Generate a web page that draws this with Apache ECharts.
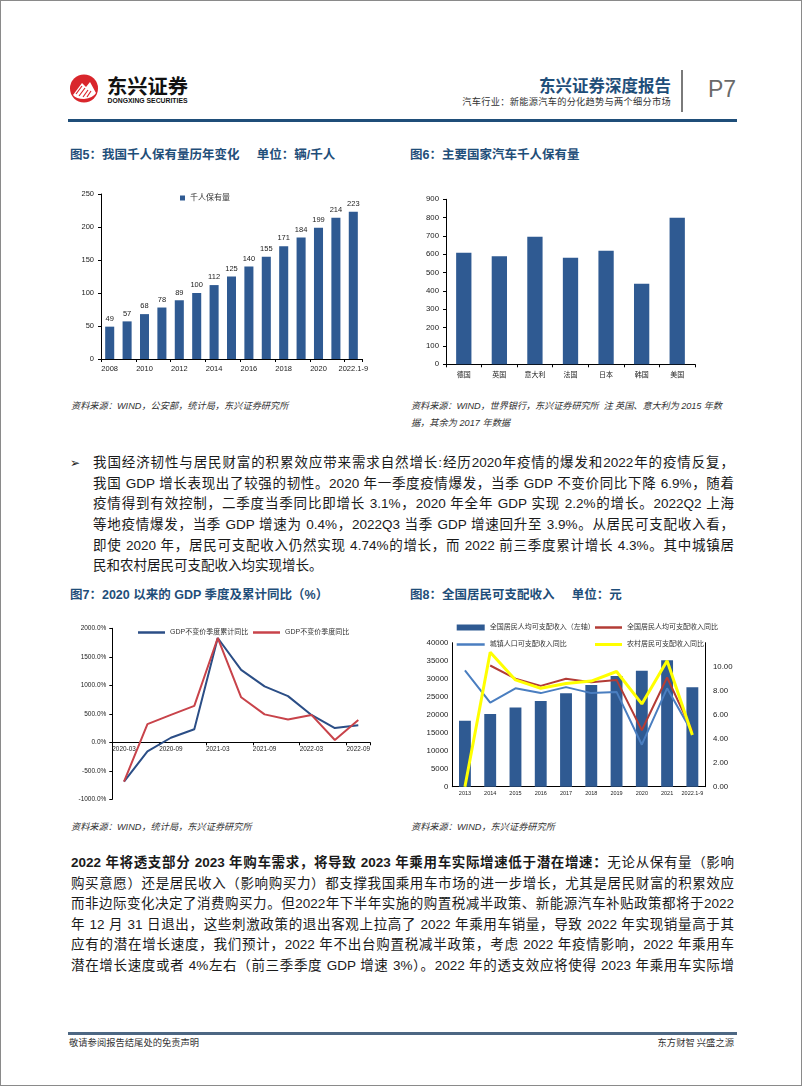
<!DOCTYPE html>
<html><head><meta charset="utf-8">
<script src="https://cdn.jsdelivr.net/npm/echarts/dist/echarts.min.js"></script>
<style>
html,body{margin:0;padding:0;background:#fff;}
body{width:802px;height:1086px;position:relative;overflow:hidden;font-family:"Liberation Sans",Arial,"Noto Sans CJK SC",sans-serif;}
.page{position:absolute;left:0;top:0;width:802px;height:1086px;box-sizing:border-box;border:1px solid #8a8a8a;}
.abs{position:absolute;}
.title{position:absolute;font-size:12.5px;font-weight:bold;color:#1f4e79;white-space:pre;line-height:16px;}
.src{position:absolute;font-size:9.2px;font-style:italic;color:#333;line-height:16px;white-space:pre;}
.para{position:absolute;font-size:13.5px;color:#1a1a1a;line-height:20.7px;}
.ln{text-align:justify;text-align-last:justify;height:20.7px;overflow:visible;}
.ln.last{text-align-last:left;}
.chart{position:absolute;}
</style></head>
<body>
<div class="page"></div>

<!-- header -->
<svg class="abs" style="left:60px;top:66px" width="140" height="44" viewBox="0 0 140 44">
  <circle cx="24" cy="22.5" r="14" fill="#d9262c"/>
  <path d="M13 29 L22 17 L26 21 L30 16 L36 27 Q33 32 24 33 Q16 33 13 29 Z" fill="#fff"/>
  <path d="M16 28 L22 20 M19 30 L25 22 M23 31 L28 24 M27 31 L31 25" stroke="#d9262c" stroke-width="1.2"/>
  <text x="47" y="28" font-family="Noto Sans CJK SC" font-weight="bold" font-size="20" fill="#111" textLength="81" lengthAdjust="spacingAndGlyphs">东兴证券</text>
  <text x="47.5" y="37" font-family="Liberation Sans" font-weight="bold" font-size="6.5" fill="#111" textLength="80" lengthAdjust="spacingAndGlyphs">DONGXING SECURITIES</text>
</svg>
<div class="abs" style="right:131px;top:75px;font-size:16.5px;font-weight:bold;color:#1f4e79;font-family:'Noto Sans CJK SC';line-height:20px;">东兴证券深度报告</div>
<div class="abs" style="right:131px;top:95px;font-size:9.2px;color:#333;font-family:'Noto Sans CJK SC';line-height:12px;letter-spacing:0.3px;">汽车行业：新能源汽车的分化趋势与两个细分市场</div>
<div class="abs" style="left:681px;top:70px;width:1.5px;height:42px;background:#7a7a7a;"></div>
<div class="abs" style="left:708px;top:75px;font-size:23px;color:#6a6a6a;line-height:28px;">P7</div>
<div class="abs" style="left:68px;top:118.5px;width:669px;height:3px;background:#1f4e79;"></div>

<!-- chart titles -->
<div class="title" style="left:70px;top:147px;">图5：我国千人保有量历年变化     单位：辆/千人</div>
<div class="title" style="left:410px;top:147px;">图6：主要国家汽车千人保有量</div>
<div class="chart" id="c5" style="left:60px;top:165px;width:330px;height:225px;"></div>
<div class="chart" id="c6" style="left:400px;top:165px;width:330px;height:225px;"></div>
<div class="src" style="left:71px;top:398px;">资料来源：WIND，公安部，统计局，东兴证券研究所</div>
<div class="src" style="left:411px;top:398px;letter-spacing:-0.1px;">资料来源：WIND，世界银行，东兴证券研究所  注 英国、意大利为 2015 年数</div>
<div class="src" style="left:411px;top:414.5px;">据，其余为 2017 年数据</div>

<!-- paragraph 1 -->
<div class="abs" style="left:70px;top:453px;font-size:12px;line-height:20.7px;font-family:'DejaVu Sans';color:#222;">➢</div>
<div class="para" style="left:93px;top:453px;width:641px;">
<div class="ln">我国经济韧性与居民财富的积累效应带来需求自然增长:经历2020年疫情的爆发和2022年的疫情反复，</div>
<div class="ln">我国 GDP 增长表现出了较强的韧性。2020 年一季度疫情爆发，当季 GDP 不变价同比下降 6.9%，随着</div>
<div class="ln">疫情得到有效控制，二季度当季同比即增长 3.1%，2020 年全年 GDP 实现 2.2%的增长。2022Q2 上海</div>
<div class="ln">等地疫情爆发，当季 GDP 增速为 0.4%，2022Q3 当季 GDP 增速回升至 3.9%。从居民可支配收入看，</div>
<div class="ln">即使 2020 年，居民可支配收入仍然实现 4.74%的增长，而 2022 前三季度累计增长 4.3%。其中城镇居</div>
<div class="ln last">民和农村居民可支配收入均实现增长。</div>
</div>

<div class="title" style="left:70px;top:587px;">图7：2020 以来的 GDP 季度及累计同比（%）</div>
<div class="title" style="left:410px;top:587px;">图8：全国居民可支配收入     单位：元</div>
<div class="chart" id="c7" style="left:60px;top:610px;width:330px;height:200px;"></div>
<div class="chart" id="c8" style="left:400px;top:610px;width:345px;height:200px;"></div>
<div class="src" style="left:71px;top:818.5px;">资料来源：WIND，统计局，东兴证券研究所</div>
<div class="src" style="left:411px;top:818.5px;">资料来源：WIND，东兴证券研究所</div>

<!-- paragraph 2 -->
<div class="para" style="left:71px;top:853px;width:663px;line-height:20.5px;">
<div class="ln" style="height:20.5px"><b>2022 年将透支部分 2023 年购车需求，将导致 2023 年乘用车实际增速低于潜在增速：</b>无论从保有量（影响</div>
<div class="ln" style="height:20.5px">购买意愿）还是居民收入（影响购买力）都支撑我国乘用车市场的进一步增长，尤其是居民财富的积累效应</div>
<div class="ln" style="height:20.5px">而非边际变化决定了消费购买力。但2022年下半年实施的购置税减半政策、新能源汽车补贴政策都将于2022</div>
<div class="ln" style="height:20.5px">年 12 月 31 日退出，这些刺激政策的退出客观上拉高了 2022 年乘用车销量，导致 2022 年实现销量高于其</div>
<div class="ln" style="height:20.5px">应有的潜在增长速度，我们预计，2022 年不出台购置税减半政策，考虑 2022 年疫情影响，2022 年乘用车</div>
<div class="ln" style="height:20.5px">潜在增长速度或者 4%左右（前三季季度 GDP 增速 3%）。2022 年的透支效应将使得 2023 年乘用车实际增</div>
</div>

<!-- footer -->
<div class="abs" style="left:68px;top:1032px;width:669px;height:2.5px;background:#4d6783;"></div>
<div class="abs" style="left:69px;top:1036px;font-size:9.3px;color:#333;font-family:'Noto Sans CJK SC';line-height:12px;">敬请参阅报告结尾处的免责声明</div>
<div class="abs" style="right:68px;top:1036px;font-size:9.3px;color:#333;font-family:'Noto Sans CJK SC';line-height:12px;">东方财智 兴盛之源</div>

<script>
// ---------- data ----------
const years5 = ['2008','2009','2010','2011','2012','2013','2014','2015','2016','2017','2018','2019','2020','2021','2022.1-9'];
const holdings5 = [49,57,68,78,89,100,112,125,140,155,171,184,199,214,223];

const countries6 = ['德国','英国','意大利','法国','日本','韩国','美国'];
const holdings6 = [609,589,696,581,620,440,800];

const quarters7 = ['2020-03','2020-06','2020-09','2020-12','2021-03','2021-06','2021-09','2021-12','2022-03','2022-06','2022-09'];
const gdpCum7 = [-690,-160,80,228,1830,1270,980,810,480,250,300];
const gdpQtr7 = [-690,320,480,640,1830,790,490,400,480,40,390];

const years8 = ['2013','2014','2015','2016','2017','2018','2019','2020','2021','2022.1-9'];
const income8 = [18311,20167,21966,23821,25974,28228,30733,32189,35128,27650];
const incomeYoY8 = [null,10.1,9.0,8.4,9.0,8.7,8.9,4.7,9.1,4.6];
const urbanYoY8 = [9.7,7.0,8.2,7.8,8.3,7.8,7.9,3.5,8.2,4.5];
const ruralYoY8 = [0,11.2,8.9,8.2,8.6,8.8,9.6,6.9,10.5,4.3];

// ---------- styles ----------
const FONT = "'Liberation Sans','Noto Sans CJK SC',sans-serif";
const BAR = '#2f5a92';
const AXL = {show:true, lineStyle:{color:'#000', width:1}};
const TICK = {show:true, length:3, lineStyle:{color:'#000'}};

function mk(id){ return echarts.init(document.getElementById(id), null, {renderer:'canvas', devicePixelRatio:1}); }

// Chart 5
mk('c5').setOption({
  animation:false,
  textStyle:{fontFamily:FONT},
  grid:{left:41, top:29, width:261, height:165},
  legend:{data:['千人保有量'], left:115, top:24, icon:'rect', itemWidth:5, itemHeight:5, itemGap:5,
    textStyle:{fontSize:8, color:'#333', fontFamily:FONT}},
  xAxis:{type:'category', data:years5, axisLine:AXL, axisTick:TICK,
    axisLabel:{interval:1, fontSize:7.5, color:'#222', margin:6}},
  yAxis:{type:'value', min:0, max:250, interval:50, axisLine:AXL, axisTick:TICK, splitLine:{show:false},
    axisLabel:{fontSize:7.5, color:'#222', margin:7}},
  series:[{type:'bar', name:'千人保有量', data:holdings5, barWidth:'52%', itemStyle:{color:BAR},
    label:{show:true, position:'top', fontSize:7.5, color:'#222', distance:4}}]
});

// Chart 6
mk('c6').setOption({
  animation:false,
  textStyle:{fontFamily:FONT},
  grid:{left:46, top:34.3, width:249, height:165},
  xAxis:{type:'category', data:countries6, axisLine:AXL, axisTick:TICK,
    axisLabel:{interval:0, fontSize:7, color:'#222', margin:7}},
  yAxis:{type:'value', min:0, max:900, interval:100, axisLine:AXL, axisTick:TICK, splitLine:{show:false},
    axisLabel:{fontSize:7.8, color:'#222', margin:7}},
  series:[{type:'bar', data:holdings6, barWidth:'43%', itemStyle:{color:BAR}}]
});

// Chart 7
const C7B = '#2b4e86', C7R = '#c8434a';
const yMin7 = -1000, yMax7 = 2000, gridH7 = 171;
mk('c7').setOption({
  animation:false,
  textStyle:{fontFamily:FONT},
  grid:{left:52.3, top:18.3, width:257.7, height:gridH7},
  legend:[
    {data:['GDP不变价季度累计同比'], left:73, top:14, icon:'rect', itemWidth:27, itemHeight:2.5, textStyle:{fontSize:7, color:'#333'}},
    {data:['GDP不变价季度同比'], left:188, top:14, icon:'rect', itemWidth:27, itemHeight:2.5, textStyle:{fontSize:7, color:'#333'}}
  ],
  xAxis:{type:'category', data:quarters7, position:'bottom',
    offset: -gridH7 * (0 - yMin7) / (yMax7 - yMin7),
    axisLine:{show:true, onZero:false, lineStyle:{color:'#000'}}, axisTick:TICK,
    axisLabel:{interval:1, fontSize:6.4, color:'#222', margin:4}},
  yAxis:{type:'value', min:yMin7, max:yMax7, interval:500, axisLine:AXL, axisTick:TICK, splitLine:{show:false},
    axisLabel:{fontSize:6.5, color:'#222', margin:6, formatter:v=>v.toFixed(1)+'%'}},
  series:[
    {type:'line', name:'GDP不变价季度累计同比', data:gdpCum7, symbol:'none', color:C7B, lineStyle:{width:2, color:C7B}},
    {type:'line', name:'GDP不变价季度同比', data:gdpQtr7, symbol:'none', color:C7R, lineStyle:{width:2, color:C7R}}
  ]
});

// Chart 8
const C8R = '#b33c36', C8B = '#4a7ec0', C8Y = '#ffff00';
const lg = (name, left, top, w, h) => ({data:[name], left, top, icon:'rect', itemWidth:w, itemHeight:h, textStyle:{fontSize:7, color:'#333'}});
mk('c8').setOption({
  animation:false,
  textStyle:{fontFamily:FONT},
  grid:{left:52.3, top:32.7, width:252.7, height:144},
  legend:[
    lg('全国居民人均可支配收入（左轴）', 51.7, 9, 28, 6),
    lg('全国居民人均可支配收入同比', 190, 9, 27, 2.5),
    lg('城镇人口可支配收入同比', 51.7, 26, 28, 2.5),
    lg('农村居民可支配收入同比', 190, 26, 27, 3)
  ],
  xAxis:{type:'category', data:years8, axisLine:AXL, axisTick:{show:false},
    axisLabel:{interval:0, fontSize:5.5, color:'#222', margin:4}},
  yAxis:[
    {type:'value', min:0, max:40000, interval:5000, axisLine:AXL, axisTick:{show:false}, splitLine:{show:false},
      axisLabel:{fontSize:7.8, color:'#222', margin:4, formatter:v=>String(v)}},
    {type:'value', min:0, max:12, interval:2, position:'right', axisLine:AXL, axisTick:{show:false}, splitLine:{show:false},
      axisLabel:{fontSize:7.8, color:'#222', margin:8, formatter:v=> v===12 ? '' : v.toFixed(2)}}
  ],
  series:[
    {type:'bar', name:'全国居民人均可支配收入（左轴）', data:income8, barWidth:'47%', color:BAR, itemStyle:{color:BAR}},
    {type:'line', name:'城镇人口可支配收入同比', yAxisIndex:1, data:urbanYoY8, symbol:'none', color:C8B, lineStyle:{width:2, color:C8B}},
    {type:'line', name:'全国居民人均可支配收入同比', yAxisIndex:1, data:incomeYoY8, symbol:'none', color:C8R, lineStyle:{width:2, color:C8R}},
    {type:'line', name:'农村居民可支配收入同比', yAxisIndex:1, data:ruralYoY8, symbol:'none', color:C8Y, lineStyle:{width:3, color:C8Y}}
  ]
});
</script>
</body></html>
